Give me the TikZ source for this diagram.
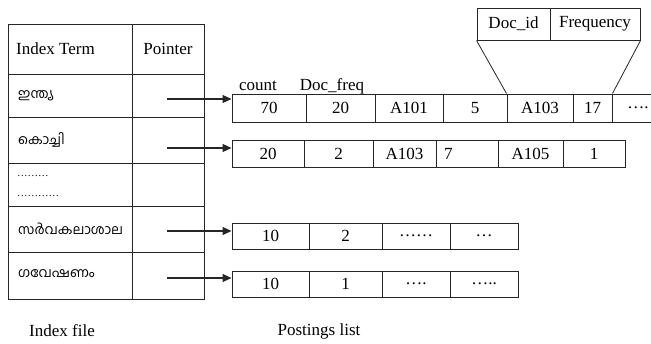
\documentclass[tikz,border=0pt]{standalone}
\usepackage{fontspec}
\setmainfont{Liberation Serif}
\newfontfamily\mal[Script=Malayalam]{Hind Kochi}
\usetikzlibrary{arrows.meta}
\tikzset{
  pc/.style={draw=black!85, line width=1pt, inner sep=0pt, font=\fontsize{17}{19}\selectfont},
  lbl/.style={inner sep=0pt, font=\fontsize{17}{19}\selectfont},
  ml/.style={inner sep=0pt, anchor=west, font=\mal\fontsize{13.5}{15}\selectfont},
  ptr/.style={draw=black!85, line width=1.1pt, -{Triangle[length=9pt,width=8pt]}},
  link/.style={draw=black!85, line width=0.8pt}
}
\newcommand\pcell[6]{\node[pc, minimum width={#4-#2}, minimum height={#5-#3}] (#1) at ({(#2+#4)/2},{(#3+#5)/2}) {#6};}
\begin{document}
\begin{tikzpicture}[x=1pt,y=-1pt]
\useasboundingbox (0,0) rectangle (651,343);
% index file table
\pcell{h1}{8}{24}{132}{74}{}
\pcell{h2}{132}{24}{204}{74}{Pointer}
\node[lbl, anchor=west] (ht) at (16,49) {Index Term};
\pcell{t1}{8}{74}{132}{117}{}
\pcell{p1}{132}{74}{204}{117}{}
\pcell{t2}{8}{117}{132}{163}{}
\pcell{p2}{132}{117}{204}{163}{}
\pcell{t3}{8}{163}{132}{206}{}
\pcell{p3}{132}{163}{204}{206}{}
\pcell{t4}{8}{206}{132}{252}{}
\pcell{p4}{132}{206}{204}{252}{}
\pcell{t5}{8}{252}{132}{299}{}
\pcell{p5}{132}{252}{204}{299}{}
\node[ml] (m1) at (18,95.5) {ഇന്ത്യ};
\node[ml] (m2) at (18,140) {കൊച്ചി};
\node[ml] (m4) at (18,229) {സർവകലാശാല};
\node[ml] (m5) at (18,274) {ഗവേഷണം};
\node[inner sep=0pt, anchor=west, font=\fontsize{10.5}{12}\selectfont] (d1) at (17,176) {………};
\node[inner sep=0pt, anchor=west, font=\fontsize{10.5}{12}\selectfont] (d2) at (17,196) {…………};
% posting row 1
\node[lbl] (cnt) at (258,86) {count};
\node[lbl] (dfq) at (332,86) {Doc\_freq};
\pcell{r1a}{232}{94}{306}{122}{70}
\pcell{r1b}{306}{94}{375}{122}{20}
\pcell{r1c}{375}{94}{443}{122}{A101}
\pcell{r1d}{443}{94}{507}{122}{5}
\pcell{r1e}{507}{94}{573}{122}{A103}
\pcell{r1f}{573}{94}{612}{122}{17}
\pcell{r1g}{612}{94}{664}{122}{….}
% row 2
\pcell{r2a}{232}{140}{304}{167}{20}
\pcell{r2b}{304}{140}{373}{167}{2}
\pcell{r2c}{373}{140}{436}{167}{A103}
\pcell{r2d}{436}{140}{498}{167}{}
\node[lbl, anchor=west] (r2dt) at (444,153.5) {7};
\pcell{r2e}{498}{140}{563}{167}{A105}
\pcell{r2f}{563}{140}{625}{167}{1}
% row 4
\pcell{r4a}{232}{223}{309}{249}{10}
\pcell{r4b}{309}{223}{382}{249}{2}
\pcell{r4c}{382}{223}{450}{249}{……}
\pcell{r4d}{450}{223}{518}{249}{…}
% row 5
\pcell{r5a}{232}{271}{309}{297}{10}
\pcell{r5b}{309}{271}{382}{297}{1}
\pcell{r5c}{382}{271}{450}{297}{….}
\pcell{r5d}{450}{271}{518}{297}{…..}
% doc id box
\pcell{di}{477}{8}{550}{40}{Doc\_id}
\pcell{fq}{550}{8}{640}{40}{Frequency}
\draw[link] (di.south west) -- (r1e.north west);
\draw[link] (fq.south east) -- (r1f.north east);
% pointers
\draw[ptr] (p1.center) ++(-1,3.5) coordinate (s1) -- (s1 -| r1a.west);
\draw[ptr] (p2.center) ++(-1,8) coordinate (s2) -- (s2 -| r2a.west);
\draw[ptr] (p4.center) ++(-1,2) coordinate (s4) -- (s4 -| r4a.west);
\draw[ptr] (p5.center) ++(-1,2.5) coordinate (s5) -- (s5 -| r5a.west);
% captions
\node[lbl] (cap1) at (62,331) {Index file};
\node[lbl] (cap2) at (319,331) {Postings list};
\end{tikzpicture}
\end{document}
